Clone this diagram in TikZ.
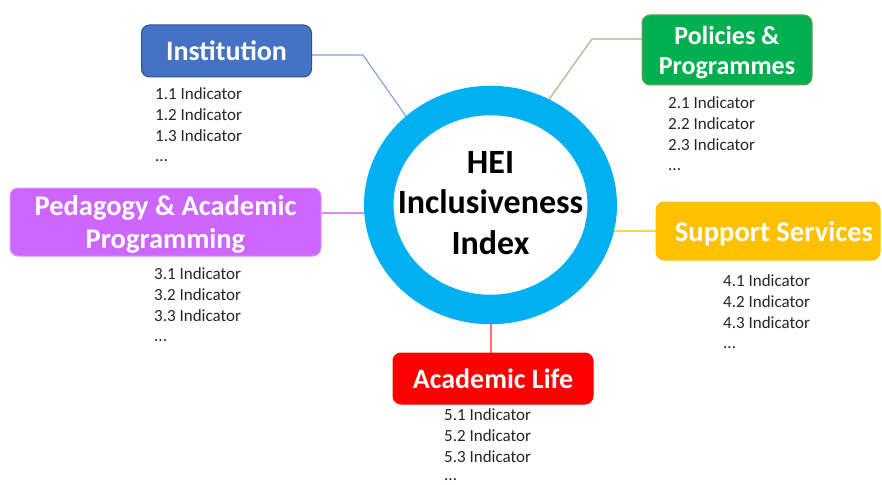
\documentclass[tikz,border=0pt]{standalone}
\usepackage{fontspec}
\setmainfont{Carlito}
\usetikzlibrary{shapes.geometric,calc}
\pgfdeclarelayer{back}
\pgfdeclarelayer{bg}
\pgfsetlayers{back,bg,main}
\definecolor{ringc}{HTML}{00B0F0}
\definecolor{instc}{HTML}{4472C4}
\definecolor{instb}{HTML}{2F528F}
\definecolor{polc}{HTML}{00B050}
\definecolor{polb}{HTML}{7A9A4A}
\definecolor{pedc}{HTML}{CC66FF}
\definecolor{pedb}{HTML}{D99AFF}
\definecolor{supc}{HTML}{FFC000}
\definecolor{acadc}{HTML}{FF0000}
\definecolor{lninst}{HTML}{7F9FD8}
\definecolor{lnpol}{HTML}{9CB77A}
\definecolor{lnped}{HTML}{D98CFF}
\definecolor{lnsup}{HTML}{FFD35C}
\definecolor{lnacad}{HTML}{FF6F6F}
\definecolor{txt}{HTML}{262626}
\begin{document}
\begin{tikzpicture}[x=1pt,y=-1pt,
  cat/.style={rounded corners=8pt, line width=1pt, text=white,
    font=\bfseries\fontsize{28}{33}\selectfont, align=center, inner sep=0pt},
  ind/.style={anchor=north west, align=left,
    font=\fontsize{17}{20.7}\selectfont, text=txt, inner sep=0pt},
  conn/.style={line width=1.1pt}]
\begin{pgfonlayer}{back}
\path[use as bounding box, fill=white] (0,0) rectangle (882,484);
\end{pgfonlayer}

% central ring
\node[ellipse, draw=ringc, line width=29.5pt, fill=white, inner sep=0pt,
  minimum width=223.5pt, minimum height=209pt] (hei) at (490.5,205) {};
\node[font=\bfseries\fontsize{34}{40.7}\selectfont, align=center, text=black]
  (heit) at (490.5,203) {HEI\\Inclusiveness\\Index};

% category boxes
\node[cat, fill=instc, draw=instb, minimum width=170pt, minimum height=52pt]
  (inst) at (226.5,51) {Institution};
\node[cat, fill=polc, draw=polb, minimum width=170pt, minimum height=70pt,
  font=\bfseries\fontsize{26}{30}\selectfont, text depth=0pt]
  (pol) at (727,50) {Policies \&\\Programmes};
\node[cat, fill=pedc, draw=pedb, minimum width=311pt, minimum height=68pt,
  font=\bfseries\fontsize{28.5}{33}\selectfont, text depth=0pt]
  (ped) at (165.5,222) {Pedagogy \& Academic\\Programming};
\node[cat, fill=supc, draw=supc, minimum width=224pt, minimum height=58pt,
  font=\bfseries\fontsize{28.6}{33}\selectfont, text depth=0pt]
  (sup) at (768,231) {\hspace*{12pt}Support Services};
\node[cat, fill=acadc, draw=acadc, minimum width=200pt, minimum height=51pt]
  (acad) at (493,378.5) {Academic Life};

% indicator lists
\node[ind] (instl1) at (155,87.6) {1.1 Indicator\\1.2 Indicator\\1.3 Indicator\\...};
\node[ind] (poll1) at (668,96.6) {2.1 Indicator\\2.2 Indicator\\2.3 Indicator\\...};
\node[ind] (pedl1) at (154,267.6) {3.1 Indicator\\3.2 Indicator\\3.3 Indicator\\...};
\node[ind] (supl1) at (723,274.6) {4.1 Indicator\\4.2 Indicator\\4.3 Indicator\\...};
\node[ind] (acadl1) at (444,408.6) {5.1 Indicator\\5.2 Indicator\\5.3 Indicator\\[-2pt]...};

% connectors
\coordinate (ib) at (363,55);
\coordinate (ie) at (410,122);
\coordinate (pb) at (592,39);
\coordinate (pe) at (545,105);
\begin{pgfonlayer}{bg}
\draw[conn, draw=lninst] ([yshift=-4pt]inst.east) -- (ib) -- (ie);
\draw[conn, draw=lnpol] ([yshift=11pt]pol.west) -- (pb) -- (pe);
\draw[conn, draw=lnped] ([yshift=9pt]ped.east) -- ([yshift=9pt]ped.east -| hei.center);
\draw[conn, draw=lnsup] (sup.west) -- (sup.west -| hei.center);
\draw[conn, draw=lnacad] ([xshift=-2pt]acad.north) -- ([xshift=-2pt]acad.north |- hei.center);
\end{pgfonlayer}
\end{tikzpicture}
\end{document}
